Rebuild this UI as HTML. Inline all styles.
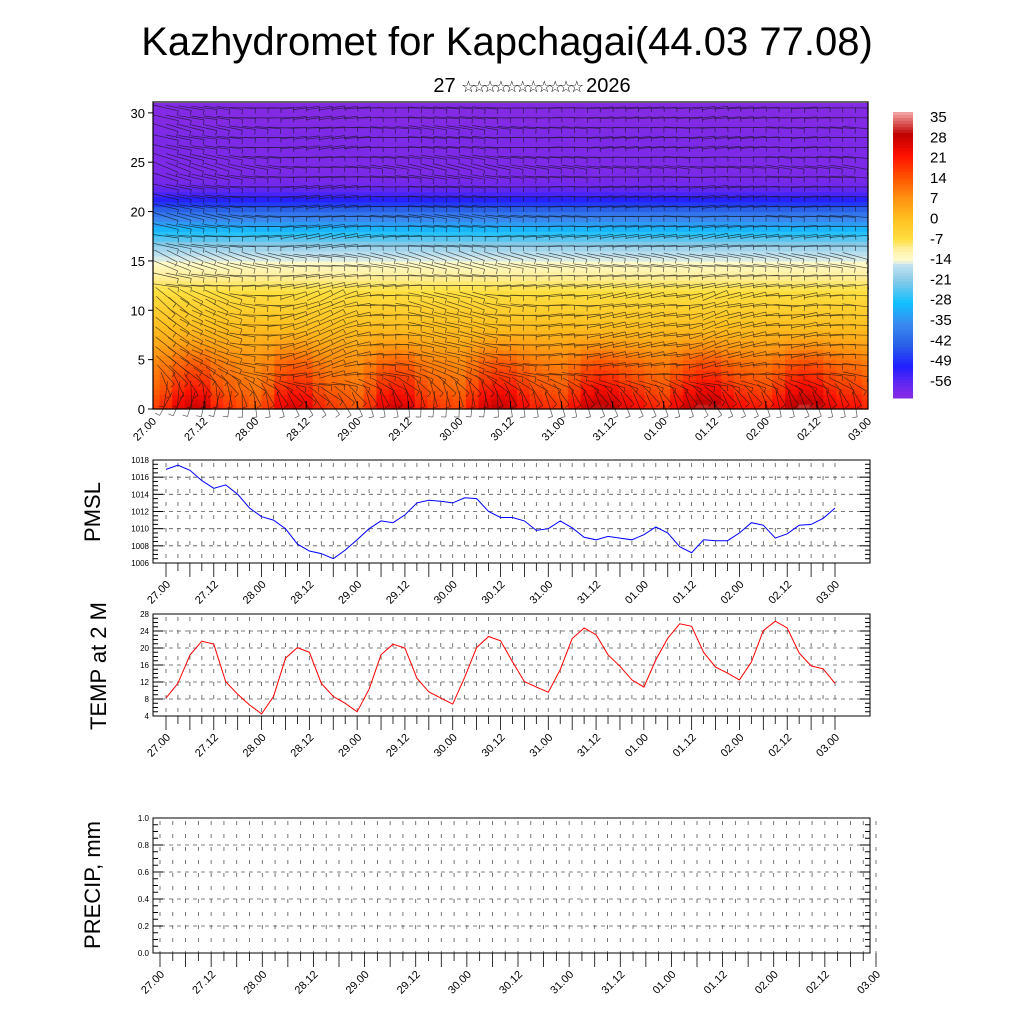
<!DOCTYPE html>
<html><head><meta charset="utf-8">
<style>
html,body{margin:0;padding:0;background:#fff;}
svg{display:block;font-family:"Liberation Sans","DejaVu Sans",sans-serif;}
</style></head>
<body>
<svg id="c" width="1024" height="1024" viewBox="0 0 1024 1024" xmlns="http://www.w3.org/2000/svg">
<text x="507" y="55" font-size="40" text-anchor="middle">Kazhydromet for Kapchagai(44.03 77.08)</text>
<text x="532" y="92" font-size="20" text-anchor="middle">27 <tspan font-size="16" letter-spacing="-3.5">☆☆☆☆☆☆☆☆☆☆☆</tspan> 2026</text>
<g id="topPanel"></g>
<g id="cbar"></g>
<g id="pmsl"></g>
<g id="temp"></g>
<g id="precip"></g>
<text transform="translate(100,512) rotate(-90)" font-size="22" text-anchor="middle">PMSL</text>
<text transform="translate(106,666) rotate(-90)" font-size="22" text-anchor="middle">TEMP at 2 M</text>
<text transform="translate(100,885) rotate(-90)" font-size="22" text-anchor="middle">PRECIP, mm</text>
</svg>
<script>
const timeLabels=["27.00","27.12","28.00","28.12","29.00","29.12","30.00","30.12","31.00","31.12","01.00","01.12","02.00","02.12","03.00"];
const pmslValues=[1016.9,1017.4,1016.8,1015.6,1014.7,1015.1,1014.0,1012.4,1011.4,1011.0,1010.0,1008.2,1007.4,1007.1,1006.5,1007.5,1008.7,1010.0,1010.9,1010.7,1011.6,1013.0,1013.3,1013.2,1013.0,1013.6,1013.5,1012.0,1011.3,1011.3,1010.9,1009.8,1010.0,1010.9,1010.1,1009.0,1008.7,1009.1,1008.9,1008.7,1009.3,1010.2,1009.5,1007.9,1007.2,1008.7,1008.6,1008.6,1009.5,1010.7,1010.4,1008.9,1009.4,1010.4,1010.5,1011.2,1012.4];
const tempValues=[8.2,11.7,18.3,21.6,20.9,12.1,9.1,6.6,4.5,8.6,17.6,20.1,19.0,11.7,8.6,7.0,5.0,10.3,18.4,20.9,20.0,12.9,9.7,8.2,6.8,13.1,20.1,22.7,21.7,16.8,12.1,10.8,9.6,14.9,22.2,24.7,23.1,18.4,15.7,12.5,10.8,17.2,22.3,25.7,25.1,19.0,15.5,14.1,12.5,16.7,24.1,26.3,24.7,18.8,15.8,15.1,11.7];
const pmslTicks=[1006,1008,1010,1012,1014,1016,1018];
const tempTicks=[4,8,12,16,20,24,28];
const precipTicks=["0.0","0.2","0.4","0.6","0.8","1.0"];
const heightTicks=[0,5,10,15,20,25,30];
const cbarLabels=[35,28,21,14,7,0,-7,-14,-21,-28,-35,-42,-49,-56];
const profileTemp=[20,18,15,13,11,9,6,3,1,-1,-3,-5,-7,-9,-11,-14,-17,-22,-28,-34,-40,-48,-54,-57,-58,-58,-58,-58,-58,-59,-59,-59];
const windAngle=[80,60,30,10,5,0,0,0,0,0,5,0,-5,0,10,15,0,-5,0,5,0,0,0,5,10,5,0,0,5,0,0,0];

const NS="http://www.w3.org/2000/svg";
function mk(p,t,a){const e=document.createElementNS(NS,t);for(const k in a)e.setAttribute(k,a[k]);p.appendChild(e);return e;}
const stops=[[-60,[138,43,226]],[-56,[110,40,238]],[-49,[32,32,255]],[-42,[42,96,232]],[-35,[58,138,240]],[-28,[16,192,255]],[-21,[128,200,232]],[-15,[200,228,240]],[-14,[255,251,208]],[-10,[255,240,160]],[-7,[255,224,64]],[0,[255,192,32]],[7,[255,144,16]],[14,[255,80,0]],[21,[255,16,0]],[28,[192,0,0]],[35,[240,160,160]]];
function cmap(v){if(v<=stops[0][0])return "rgb("+stops[0][1]+")";for(let i=1;i<stops.length;i++){if(v<=stops[i][0]){const a=stops[i-1],b=stops[i],t=(v-a[0])/(b[0]-a[0]);return "rgb("+a[1].map((c,j)=>Math.round(c+(b[1][j]-c)*t)).join(",")+")";}}return "rgb("+stops[stops.length-1][1]+")";}

const topG=document.getElementById('topPanel');
const TX0=153,TX1=868,TY0=102,TY1=409;
const hy=h=>TY1-h*(TY1-TY0)/31.1;
const nPts=tempValues.length;
const tx=i=>TX0+i*(TX1-TX0)/(nPts-1);
const cw=(TX1-TX0)/(nPts-1);
for(let i=0;i<nPts;i++){
 for(let r=0;r<62;r++){
  const h=r*0.5+0.25, lo=Math.floor(h), f=h-lo;
  let v=profileTemp[lo]*(1-f)+profileTemp[Math.min(lo+1,31)]*f;
  const w=Math.max(0,1-h/8);
  v+=(tempValues[i]-13)*w*0.8;
  const c=mk(topG,'rect',{x:(tx(i)-cw/2).toFixed(1),y:hy(h+0.25).toFixed(1),width:(cw+0.6).toFixed(1),height:(hy(0)-hy(0.5)+0.6).toFixed(1),fill:cmap(v)});
  
  
 }
}
mk(topG,'rect',{x:TX0-cw/2-1,y:TY0-2,width:cw/2+1,height:TY1-TY0+4,fill:'#fff'});
mk(topG,'rect',{x:TX1,y:TY0-2,width:cw/2+2,height:TY1-TY0+4,fill:'#fff'});
mk(topG,'rect',{x:TX0,y:TY0-4,width:TX1-TX0,height:4,fill:'#fff'});
const wg=mk(topG,'g',{stroke:'#111','stroke-width':'0.7',opacity:'0.7'});
for(let lv=0;lv<31;lv++){
 for(let i=1;i<nPts-1;i+=1){
  const a=(windAngle[lv]+(pmslValues[i]-1011)*(lv<12?6:2))*Math.PI/180;
  const x=tx(i),y=hy(lv+0.5),L=26;
  const dx=Math.cos(a)*L/2,dy=Math.sin(a)*L/2;
  const ln=mk(wg,'line',{x1:(x-dx).toFixed(1),y1:(y-dy).toFixed(1),x2:(x+dx).toFixed(1),y2:(y+dy).toFixed(1)});
  
  
  mk(wg,'line',{x1:(x+dx).toFixed(1),y1:(y+dy).toFixed(1),x2:(x+dx-Math.sin(a)*5).toFixed(1),y2:(y+dy+Math.cos(a)*5).toFixed(1)});
 }
}
mk(topG,'rect',{x:TX0,y:TY0,width:TX1-TX0,height:TY1-TY0,fill:'none',stroke:'#000','stroke-width':1.2});
heightTicks.forEach(h=>{const y=hy(h);mk(topG,'line',{x1:TX0-5,y1:y,x2:TX0,y2:y,stroke:'#000'});const t=mk(topG,'text',{x:TX0-8,y:y+5,'font-size':13,'text-anchor':'end'});t.textContent=h;});
const nL=timeLabels.length-1;
timeLabels.forEach((s,k)=>{const x=TX0+k*(TX1-TX0)/nL;mk(topG,'line',{x1:x,y1:TY1,x2:x,y2:TY1-8,stroke:'#000'});const t=mk(topG,'text',{transform:`translate(${x+4},${TY1+13}) rotate(-45)`,'font-size':11,'text-anchor':'end'});t.textContent=s;});

const cb=document.getElementById('cbar');
const CY0=112,CY1=398;
for(let k=0;k<96;k++){const v=35-k*(95/96);mk(cb,'rect',{x:893,y:(CY0+k*(CY1-CY0)/96).toFixed(1),width:20,height:((CY1-CY0)/96+0.5).toFixed(1),fill:cmap(v)});}
cbarLabels.forEach((v,k)=>{const t=mk(cb,'text',{x:930,y:122+k*20.3,'font-size':15});t.textContent=v;});

function panel(gid,y0,y1,ticks,vmin,vmax,values,color,labStart,labEnd){
 const g=document.getElementById(gid);const X0=153,X1=870;
 const Y=v=>y1-(v-vmin)*(y1-y0)/(vmax-vmin);
 const nn=57;const xi=i=>labStart+i*(labEnd-labStart)/(nn-1);
 for(let i=0;i<nn;i++){mk(g,'line',{x1:xi(i),y1:y0+3,x2:xi(i),y2:y1,stroke:'#555','stroke-width':0.8,'stroke-dasharray':'4,9'});}
 ticks.forEach(tv=>{const v=parseFloat(tv),y=Y(v);
  mk(g,'line',{x1:X0,y1:y,x2:X1,y2:y,stroke:'#555','stroke-width':0.8,'stroke-dasharray':'4,4'});
  mk(g,'line',{x1:X0,y1:y,x2:X0+10,y2:y,stroke:'#000'});mk(g,'line',{x1:X1-10,y1:y,x2:X1,y2:y,stroke:'#000'});
  const t=mk(g,'text',{x:X0-4,y:y+3,'font-size':8,'text-anchor':'end'});t.textContent=tv;});
 for(let k=0;k<ticks.length-1;k++){for(let m=1;m<4;m++){const y=Y(parseFloat(ticks[k])+m*(parseFloat(ticks[k+1])-parseFloat(ticks[k]))/4);mk(g,'line',{x1:X0,y1:y,x2:X0+5,y2:y,stroke:'#000'});mk(g,'line',{x1:X1-5,y1:y,x2:X1,y2:y,stroke:'#000'});}}
 if(values){const p=mk(g,'polyline',{points:values.map((v,i)=>xi(i).toFixed(1)+','+Y(v).toFixed(1)).join(' '),fill:'none',stroke:color,'stroke-width':1});
  }
 mk(g,'rect',{x:X0,y:y0,width:X1-X0,height:y1-y0,fill:'none',stroke:'#000','stroke-width':1});
 for(let i=0;i<nn;i++){const x=xi(i);mk(g,'line',{x1:x,y1:y1,x2:x,y2:y1+(i%2?8:14),stroke:'#000','stroke-width':0.8});}
 timeLabels.forEach((s,k)=>{const x=labStart+k*(labEnd-labStart)/nL;const t=mk(g,'text',{transform:`translate(${x+5},${y1+22}) rotate(-45)`,'font-size':11,'text-anchor':'end'});t.textContent=s;});
}
panel('pmsl',460,563,pmslTicks,1006,1018,pmslValues,'#0000ff',166,835);
panel('temp',614,716,tempTicks,4,28,tempValues,'#ff0000',166,835);
panel('precip',818,953,precipTicks,0,1,null,'#000',160,876);
</script>
</body></html>
